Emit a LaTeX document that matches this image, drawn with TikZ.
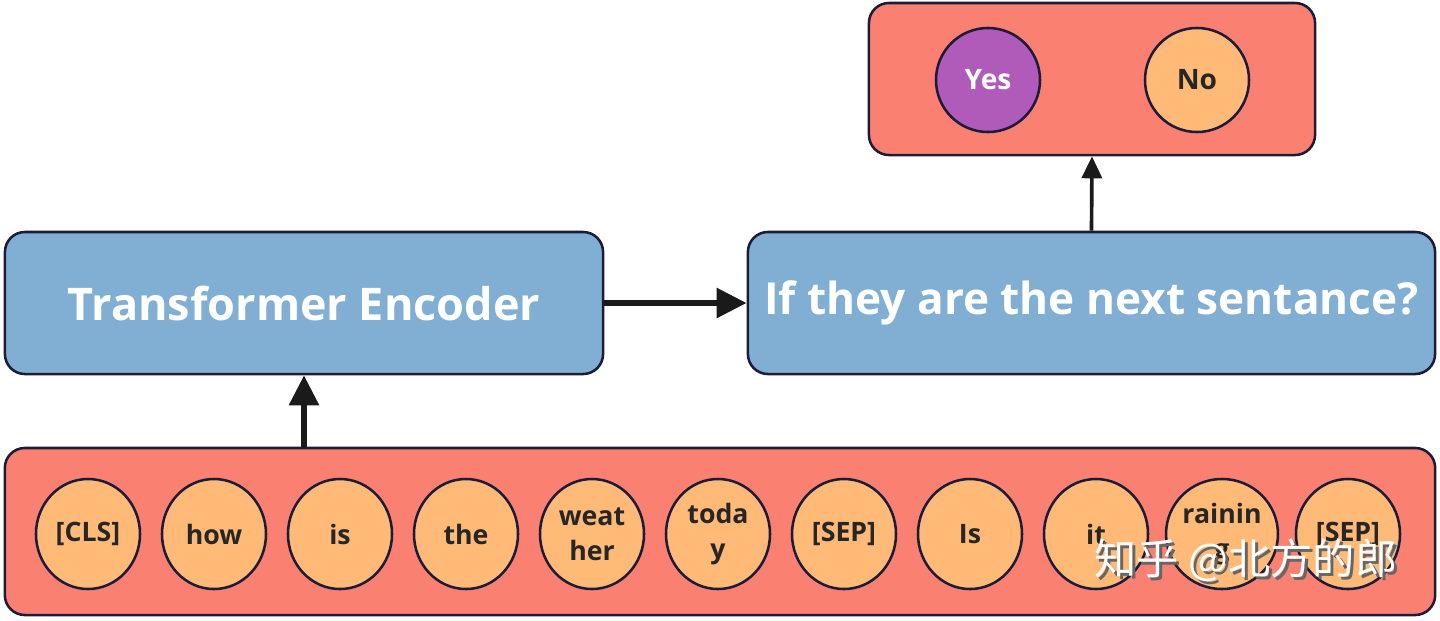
\documentclass[tikz,border=0pt]{standalone}
\usepackage{fontspec}
\setmainfont{Open Sans}
\newfontfamily\cjk{Noto Sans CJK SC}
\usetikzlibrary{arrows.meta,shapes.geometric}
\definecolor{salmonbg}{HTML}{FA8072}
\definecolor{tokfill}{HTML}{FFBA78}
\definecolor{encblue}{HTML}{80AFD3}
\definecolor{yespurple}{HTML}{B05BBA}
\definecolor{edgenavy}{HTML}{1B1B3A}
\definecolor{arrowdark}{HTML}{1A1A1A}
\begin{document}
\begin{tikzpicture}[x=0.025cm,y=-0.025cm,line join=round,
    panel/.style={draw=edgenavy,line width=1.8pt,rounded corners=0.5cm,fill=salmonbg},
    block/.style={draw=edgenavy,line width=1.8pt,rounded corners=0.5cm,fill=encblue,
        minimum height=3.55cm,text=white,font=\bfseries\fontsize{32}{32}\selectfont},
    token/.style={ellipse,draw=edgenavy,line width=1.8pt,fill=tokfill,inner sep=0pt,
        minimum width=2.6cm,minimum height=2.75cm,align=center,text=black!85,
        font=\bfseries\fontsize{19}{25}\selectfont},
    answer/.style={circle,draw=edgenavy,line width=1.8pt,inner sep=0pt,
        minimum size=2.6cm,font=\bfseries\fontsize{20}{20}\selectfont},
    arr/.style={draw=arrowdark,line width=4.5pt,-{Triangle[length=0.75cm,width=0.72cm]}}]
    \useasboundingbox (0,0) rectangle (1440,620);
    % input sequence
    \node[panel,minimum width=35.75cm,minimum height=4.175cm] (seq) at (720,531.5) {};
    \foreach \w [count=\i] in {{[CLS]},how,is,the,{weat\\her},{toda\\y},{[SEP]},Is,it,{rainin\\g},{[SEP]}}
        \node[token] (t\i) at ({88+126*(\i-1)},534) {\w};
    % encoder and NSP head
    \node[block,minimum width=14.95cm] (enc) at (304,303) {Transformer Encoder};
    \node[block,minimum width=17.175cm,font=\bfseries\fontsize{31.4}{31.4}\selectfont] (nsp) at (1091.5,303) {If they are the next sentance?};
    % output classes
    \node[panel,minimum width=11.15cm,minimum height=3.8cm] (out) at (1092,79) {};
    \node[answer,fill=yespurple,text=white] (yes) at (988,80) {Yes};
    \node[answer,fill=tokfill,text=black!85] (no) at (1197,80) {No};
    % arrows
    \draw[arr] (enc.south |- seq.north) -- (enc.south);
    \draw[arr] (enc.east) -- (nsp.west);
    \draw[arr,line width=2.6pt,-{Triangle[length=0.55cm,width=0.5cm]}] (nsp.north) -- (out.south);
    % watermark
    \node[text=black!60,font=\cjk\fontsize{30}{30}\selectfont] (wmshadow) at (1249,563) {知乎 @北方的郎};
    \node[text=white,font=\cjk\fontsize{30}{30}\selectfont] (wm) at (1246,560) {知乎 @北方的郎};
\end{tikzpicture}
\end{document}
